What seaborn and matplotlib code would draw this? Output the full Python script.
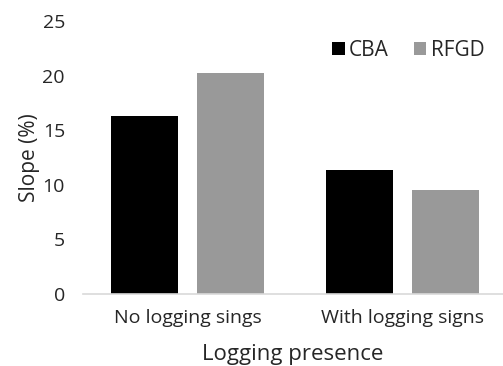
import pandas as pd
import matplotlib
matplotlib.use('Agg')
import matplotlib.pyplot as plt
import seaborn as sns

categories = ['No logging sings', 'With logging signs']
cba = [16.3, 11.4]
rfgd = [20.2, 9.5]
series = ['CBA', 'RFGD']

df = pd.DataFrame({
    'presence': categories * 2,
    'method': ['CBA'] * 2 + ['RFGD'] * 2,
    'slope': cba + rfgd,
})

sns.set_style('white')
plt.rcParams['font.family'] = ['Open Sans', 'DejaVu Sans']
text_color = '#262626'

fig = plt.figure(figsize=(5.03, 3.66), dpi=100)
ax = fig.add_axes([83 / 503, 72 / 366, 420 / 503, 273 / 366])

sns.barplot(data=df, x='presence', y='slope', hue='method',
            palette=['#000000', '#999999'], width=0.805, gap=0.225,
            edgecolor='none', ax=ax)

ax.set_xlim(-0.486, 0.467 + 1)
ax.set_ylim(0, 25)
ax.set_yticks(range(0, 26, 5))
for s in ['top', 'right', 'left']:
    ax.spines[s].set_visible(False)
ax.spines['bottom'].set_color('#d9d9d9')
ax.spines['bottom'].set_linewidth(1.2)
ax.tick_params(axis='both', length=0, labelsize=14, colors=text_color)
ax.tick_params(axis='x', pad=11)
ax.tick_params(axis='y', pad=13)
ax.set_xlabel('Logging presence', fontsize=16, color=text_color, labelpad=12)
ax.set_ylabel('Slope (%)', fontsize=15, color=text_color, labelpad=2)

ax.legend(loc='upper right', bbox_to_anchor=(1.0, 1.0), frameon=False,
          ncol=2, fontsize=15, handlelength=0.6, handleheight=0.6,
          handletextpad=0.2, columnspacing=1.2, labelcolor=text_color)

fig.savefig('out.png', dpi=100)
